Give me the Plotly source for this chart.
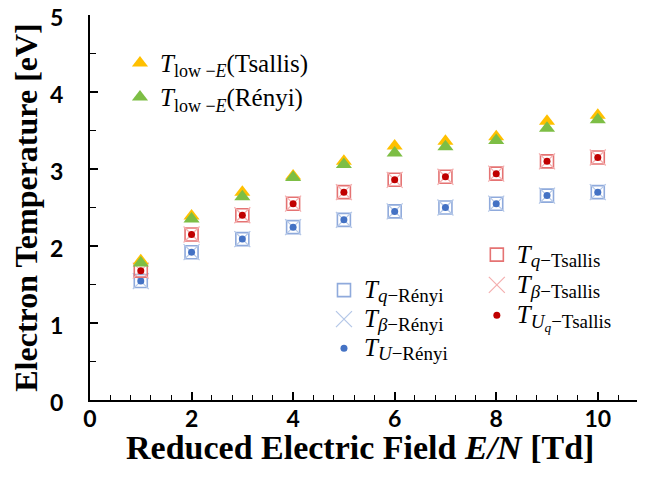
import plotly.graph_objects as go

# ---- data ----
E_N = [1, 2, 3, 4, 5, 6, 7, 8, 9, 10]
T_low_tsallis = [1.81, 2.39, 2.70, 2.91, 3.10, 3.30, 3.36, 3.42, 3.62, 3.70]
T_low_renyi = [1.78, 2.35, 2.64, 2.89, 3.06, 3.21, 3.29, 3.37, 3.53, 3.64]
T_q_tsallis = [1.68, 2.15, 2.40, 2.55, 2.70, 2.86, 2.90, 2.94, 3.10, 3.15]
T_beta_tsallis = [1.68, 2.15, 2.40, 2.55, 2.70, 2.86, 2.90, 2.94, 3.10, 3.15]
T_Uq_tsallis = [1.68, 2.15, 2.40, 2.55, 2.70, 2.86, 2.90, 2.94, 3.10, 3.15]
T_q_renyi = [1.545, 1.92, 2.09, 2.245, 2.34, 2.45, 2.50, 2.55, 2.655, 2.70]
T_beta_renyi = [1.545, 1.92, 2.09, 2.245, 2.34, 2.45, 2.50, 2.55, 2.655, 2.70]
T_U_renyi = [1.545, 1.92, 2.09, 2.245, 2.34, 2.45, 2.50, 2.55, 2.655, 2.70]

x_ticks = [0, 2, 4, 6, 8, 10]
y_ticks = [0, 1, 2, 3, 4, 5]

BLUE_L = "#8FAADC"
BLUE_D = "#4472C4"
RED_L = "#E57373"
RED_D = "#C00000"
ORANGE = "#FFC000"
GREEN = "#7DBE45"


def lbl(main, sub, tail="", msize=25, ssize=19):
    s = f'<span style="font-size:{msize}px"><i>{main}</i></span>'
    s += f'<sub><span style="font-size:{ssize}px">{sub}</span></sub>'
    if tail:
        s += f'<span style="font-size:{msize}px">{tail}</span>'
    return s


fig = go.Figure()

# Rényi group
fig.add_trace(go.Scatter(x=E_N, y=T_q_renyi, mode="markers", legend="legend2",
    name=lbl("T", "<i>q</i>−Rényi"),
    marker=dict(symbol="square-open", size=13, color=BLUE_L, line=dict(width=1.6, color=BLUE_L))))
fig.add_trace(go.Scatter(x=E_N, y=T_beta_renyi, mode="markers", legend="legend2",
    name=lbl("T", "<i>β</i>−Rényi"),
    marker=dict(symbol="x-thin-open", size=16, color="#B4C7E7", line=dict(width=1.2, color="#B4C7E7"))))
fig.add_trace(go.Scatter(x=E_N, y=T_U_renyi, mode="markers", legend="legend2",
    name=lbl("T", "<i>U</i>−Rényi"),
    marker=dict(symbol="circle", size=7, color=BLUE_D)))

# Tsallis group
fig.add_trace(go.Scatter(x=E_N, y=T_q_tsallis, mode="markers", legend="legend3",
    name=lbl("T", "<i>q</i>−Tsallis"),
    marker=dict(symbol="square-open", size=13, color=RED_L, line=dict(width=1.6, color=RED_L))))
fig.add_trace(go.Scatter(x=E_N, y=T_beta_tsallis, mode="markers", legend="legend3",
    name=lbl("T", "<i>β</i>−Tsallis"),
    marker=dict(symbol="x-thin-open", size=16, color="#F4AFAF", line=dict(width=1.2, color="#F4AFAF"))))
fig.add_trace(go.Scatter(x=E_N, y=T_Uq_tsallis, mode="markers", legend="legend3",
    name=lbl("T", "<i>U<sub>q</sub></i>−Tsallis"),
    marker=dict(symbol="circle", size=7, color=RED_D)))

# low-E
fig.add_trace(go.Scatter(x=E_N, y=T_low_tsallis, mode="markers", legend="legend",
    name=lbl("T", "low −<i>E</i>", "(Tsallis)", 25, 18),
    marker=dict(symbol="triangle-up", size=14, color=ORANGE)))
fig.add_trace(go.Scatter(x=E_N, y=T_low_renyi, mode="markers", legend="legend",
    name=lbl("T", "low −<i>E</i>", "(Rényi)", 25, 18),
    marker=dict(symbol="triangle-up", size=14, color=GREEN)))

serif = "Liberation Serif"
tickfont = dict(family="Lato", size=23, color="black", weight="bold")

# the page body adds an 8px offset; margins compensate for it
fig.update_layout(
    width=645, height=479,
    margin=dict(l=82, r=8, t=7, b=87, autoexpand=False),
    paper_bgcolor="white", plot_bgcolor="white",
    legend=dict(x=0.054, y=0.933, xanchor="left", yanchor="top",
                bgcolor="rgba(0,0,0,0)", font=dict(family=serif, size=24, color="black")),
    legend2=dict(x=0.4216, y=0.336, xanchor="left", yanchor="top",
                 bgcolor="rgba(0,0,0,0)", font=dict(family=serif, size=20, color="black")),
    legend3=dict(x=0.697, y=0.430, xanchor="left", yanchor="top",
                 bgcolor="rgba(0,0,0,0)", font=dict(family=serif, size=21, color="black")),
    annotations=[dict(
        text="<b>Reduced Electric Field <i>E/N</i> [Td]</b>",
        xref="paper", yref="paper", x=0.4865, y=0, yshift=-47,
        xanchor="center", yanchor="middle", showarrow=False,
        font=dict(family=serif, size=34, color="black"))],
)

fig.update_xaxes(
    automargin=False,
    range=[0, 10.93], tickvals=x_ticks, ticktext=[str(v) for v in x_ticks],
    showline=True, linecolor="black", linewidth=2, mirror=False,
    ticks="inside", ticklen=8, tickwidth=1.5, tickcolor="black",
    minor=dict(dtick=0.4, ticks="inside", ticklen=5, tickwidth=1.2, tickcolor="black"),
    showgrid=False, zeroline=False, tickfont=tickfont, ticklabelstandoff=-3,
    ticklabeloverflow="allow",
)
fig.update_yaxes(
    automargin=False,
    range=[0, 5.001], tickvals=y_ticks, ticktext=[str(v) for v in y_ticks],
    showline=True, linecolor="black", linewidth=2, mirror=False,
    ticks="inside", ticklen=8, tickwidth=1.5, tickcolor="black",
    minor=dict(dtick=0.5, ticks="inside", ticklen=6, tickwidth=1.2, tickcolor="black"),
    showgrid=False, zeroline=False, tickfont=tickfont, ticklabelstandoff=20,
    ticklabelshift=3, ticklabeloverflow="allow",
    title=dict(text="<b>Electron Temperature [eV]</b>",
               font=dict(family=serif, size=32, color="black"), standoff=12),
)

fig.write_html("out.html")
